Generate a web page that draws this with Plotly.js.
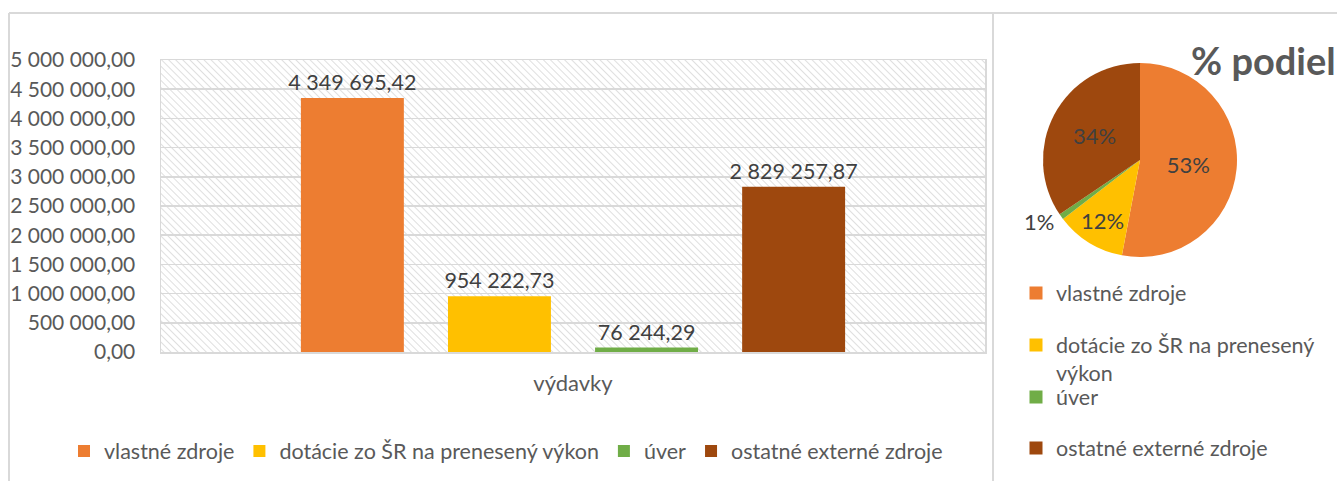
<!DOCTYPE html>
<html>
<head>
<meta charset="utf-8">
<script src="https://cdn.plot.ly/plotly-3.0.1.min.js"></script>
<style>
  html, body { margin: 0; padding: 0; background: #ffffff; }
  #chart { width: 1337px; height: 481px; }
</style>
</head>
<body>
<div id="chart"></div>
<script>
// ---- data ----
const category = ["výdavky"];
const seriesNames = ["vlastné zdroje", "dotácie zo ŠR na prenesený výkon", "úver", "ostatné externé zdroje"];
const pieLegendLabels = ["vlastné zdroje", "dotácie zo ŠR na prenesený<br>výkon", "úver", "ostatné externé zdroje"];
const seriesValues = [4349695.42, 954222.73, 76244.29, 2829257.87];
const seriesColors = ["#ED7D31", "#FFC000", "#70AD47", "#9E480E"];
const pieTitle = "% podiel";

// ---- geometry helpers (pixels -> paper, margins are 0) ----
const W = 1337, H = 481;
const px = v => v / W;
const py = v => 1 - v / H;

const FONT = "Lato, 'Open Sans', sans-serif";

const traces = seriesNames.map((name, i) => ({
  type: "bar",
  name: name,
  x: category,
  y: [seriesValues[i]],
  marker: { color: seriesColors[i] },
  texttemplate: "%{y:,.2f}",
  textposition: "outside",
  constraintext: "none",
  textfont: { family: FONT, size: 21.5, color: "#404040" },
  cliponaxis: false,
  hoverinfo: "skip",
  legend: "legend"
}));

traces.push({
  type: "pie",
  labels: seriesNames,
  values: seriesValues,
  marker: { colors: seriesColors, line: { width: 0 } },
  sort: false,
  direction: "clockwise",
  rotation: 0,
  texttemplate: "%{percent:.0%}",
  textposition: ["inside", "inside", "outside", "inside"],
  insidetextorientation: "horizontal",
  textfont: { family: FONT, size: 22, color: "#404040" },
  domain: { x: [px(1043), px(1237)], y: [py(257), py(63)] },
  hoverinfo: "skip",
  showlegend: false,
  automargin: false
});

// legend entries of the pie panel (one legend per entry so each can sit where the reference has it)
const pieLegendIds = ["legend2", "legend3", "legend4", "legend5"];
pieLegendLabels.forEach((lab, i) => {
  traces.push({
    type: "scatter",
    mode: "markers",
    name: lab,
    x: [null], y: [null],
    marker: { symbol: "square", size: 13, color: seriesColors[i] },
    hoverinfo: "skip",
    showlegend: true,
    legend: pieLegendIds[i]
  });
});

const hatch = "<svg xmlns='http://www.w3.org/2000/svg' width='824' height='292'>" +
  "<defs><pattern id='p' width='5' height='5' patternUnits='userSpaceOnUse' patternTransform='rotate(-45)'>" +
  "<line x1='0' y1='-1' x2='0' y2='6' stroke='#d4d4d4' stroke-width='1.5'/></pattern></defs>" +
  "<rect width='100%' height='100%' fill='url(#p)'/></svg>";
const hatchURI = "data:image/svg+xml;charset=utf-8," + encodeURIComponent(hatch);

const pieLegendBase = {
  orientation: "v",
  x: px(1016), xanchor: "left",
  yanchor: "middle",
  font: { family: FONT, size: 21.5, color: "#595959" },
  valign: "top",
  itemwidth: 30,
  bgcolor: "rgba(0,0,0,0)",
  itemclick: false, itemdoubleclick: false
};
const pieLegendCentersPx = [293, 345 + 14, 397, 448];

const layout = {
  width: W, height: H,
  margin: { l: 0, r: 0, t: 0, b: 0 },
  paper_bgcolor: "#ffffff",
  plot_bgcolor: "rgba(0,0,0,0)",
  separators: ", ",
  font: { family: FONT, color: "#595959" },
  barmode: "group",
  bargap: 0.286,
  bargroupgap: 0.30,
  showlegend: true,
  xaxis: {
    domain: [px(161), px(985)],
    showline: true, linecolor: "#d9d9d9", linewidth: 1.5, mirror: true,
    showgrid: false, ticks: "",
    tickfont: { family: FONT, size: 22, color: "#595959" },
    ticklabelstandoff: 11,
    fixedrange: true
  },
  yaxis: {
    domain: [py(352), py(60)],
    range: [0, 5000000],
    dtick: 500000,
    tickformat: ",.2f",
    showline: true, linecolor: "#d9d9d9", linewidth: 1.5, mirror: true,
    gridcolor: "#d9d9d9", gridwidth: 1.5,
    zeroline: false, ticks: "",
    tickfont: { family: FONT, size: 21, color: "#595959" },
    ticklabelstandoff: 20,
    fixedrange: true
  },
  legend: {
    orientation: "h",
    x: px(506), xanchor: "center",
    y: py(451), yanchor: "middle",
    font: { family: FONT, size: 21.5, color: "#595959" },
    itemwidth: 30,
    bgcolor: "rgba(0,0,0,0)",
    itemclick: false, itemdoubleclick: false
  },
  images: [{
    source: hatchURI,
    xref: "paper", yref: "paper",
    x: px(161), y: py(60),
    sizex: 824 / W, sizey: 292 / H,
    xanchor: "left", yanchor: "top",
    sizing: "stretch",
    layer: "below"
  }],
  shapes: [
    { type: "line", xref: "paper", yref: "paper", x0: px(9), x1: 1, y0: py(13), y1: py(13), line: { color: "#d9d9d9", width: 2 } },
    { type: "line", xref: "paper", yref: "paper", x0: px(9), x1: px(9), y0: 0, y1: py(13), line: { color: "#d9d9d9", width: 2 } },
    { type: "line", xref: "paper", yref: "paper", x0: px(993), x1: px(993), y0: 0, y1: py(13), line: { color: "#d9d9d9", width: 2 } }
  ],
  annotations: [{
    text: pieTitle,
    xref: "paper", yref: "paper",
    x: px(1189), y: py(60),
    xanchor: "left", yanchor: "middle",
    showarrow: false,
    font: { family: FONT, size: 38, color: "#595959", weight: "bold" }
  }]
};
pieLegendIds.forEach((id, i) => {
  layout[id] = Object.assign({}, pieLegendBase, { y: py(pieLegendCentersPx[i]) });
});

Plotly.newPlot("chart", traces, layout, { staticPlot: true, displayModeBar: false });
</script>
</body>
</html>
